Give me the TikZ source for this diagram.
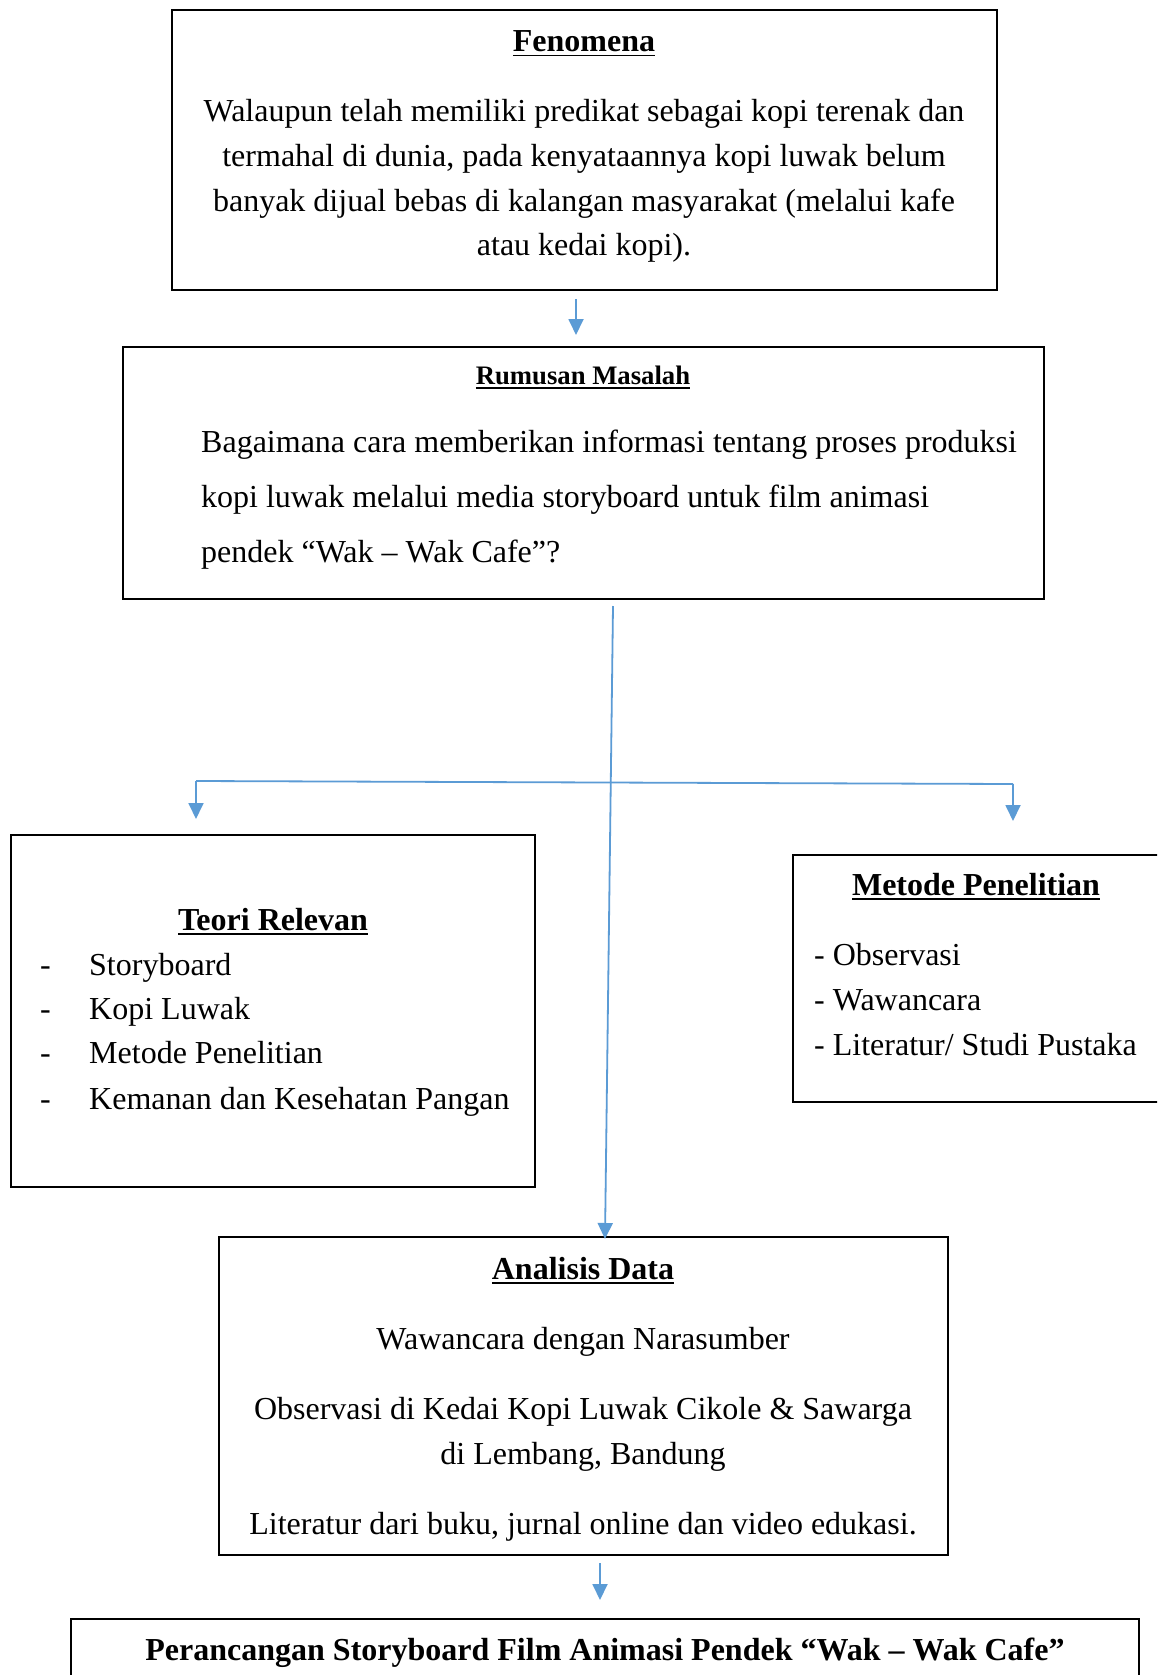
\documentclass[tikz,border=0pt]{standalone}
\usepackage{fontspec}
\setmainfont{Liberation Serif}
\usetikzlibrary{arrows.meta}
\definecolor{lineblue}{HTML}{5B9BD5}
\newcommand\myul[2][1.8pt]{\setbox0\hbox{#2}\rlap{\rule[-4.5pt]{\wd0}{#1}}\box0}
\begin{document}
\begin{tikzpicture}[x=1pt,y=-1pt,
  box/.style={draw=black, line width=2pt},
  conn/.style={draw=lineblue, line width=1.8pt},
  arr/.style={conn, -{Triangle[width=15pt,length=16pt]}},
  txt/.style={anchor=base, inner sep=0pt, font=\fontsize{32}{44}\selectfont},
  ttl/.style={txt, font=\fontsize{32}{44}\selectfont\bfseries}]
\useasboundingbox (0,0) rectangle (1157,1675);
\clip (0,0) rectangle (1157,1675);
\fill[white] (0,0) rectangle (1157,1675);
% boxes
\draw[box] (172,10) rectangle (997,290) node[pos=0.5, inner sep=0] (fen) {};
\draw[box] (123,347) rectangle (1044,599) node[pos=0.5, inner sep=0] (rum) {};
\draw[box] (11,835) rectangle (535,1187) node[pos=0.5, inner sep=0] (teo) {};
\draw[box] (793,855) rectangle (1175,1102) node[pos=0.5, inner sep=0] (met) {};
\draw[box] (219,1237) rectangle (948,1555) node[pos=0.5, inner sep=0] (ana) {};
\draw[box] (71,1619) rectangle (1139,1700) node[pos=0.5, inner sep=0] (per) {};
% Fenomena
\node[ttl] (fent) at (584,52) {\myul{Fenomena}};
\node[txt] (fen1) at (584,122) {Walaupun telah memiliki predikat sebagai kopi terenak dan};
\node[txt] (fen2) at (584,166) {termahal di dunia, pada kenyataannya kopi luwak belum};
\node[txt] (fen3) at (584,211) {banyak dijual bebas di kalangan masyarakat (melalui kafe};
\node[txt] (fen4) at (584,255) {atau kedai kopi).};
% Rumusan
\node[txt, font=\fontsize{26.7}{32}\selectfont\bfseries] (rumt) at (583,384) {\myul[1.5pt]{Rumusan Masalah}};
\node[txt, anchor=base west] (rum1) at (201,452) {Bagaimana cara memberikan informasi tentang proses produksi};
\node[txt, anchor=base west] (rum2) at (201,507) {kopi luwak melalui media storyboard untuk film animasi};
\node[txt, anchor=base west] (rum3) at (201,562) {pendek “Wak – Wak Cafe”?};
% Teori
\node[ttl] (teot) at (273,930) {\myul{Teori Relevan}};
\foreach \yy/\tt [count=\i] in {975/Storyboard,1019/Kopi Luwak,1063/Metode Penelitian,1109/Kemanan dan Kesehatan Pangan}{
  \node[txt, anchor=base west] (teod\i) at (40,\yy) {-};
  \node[txt, anchor=base west] (teoi\i) at (89,\yy) {\tt};
}
% Metode
\node[ttl] (mett) at (976,895) {\myul{Metode Penelitian}};
\node[txt, anchor=base west] (met1) at (814,965) {- Observasi};
\node[txt, anchor=base west] (met2) at (814,1010) {- Wawancara};
\node[txt, anchor=base west] (met3) at (814,1055) {- Literatur/ Studi Pustaka};
% Analisis
\node[ttl] (anat) at (583,1279) {\myul{Analisis Data}};
\node[txt] (ana1) at (583,1349) {Wawancara dengan Narasumber};
\node[txt] (ana2) at (583,1419) {Observasi di Kedai Kopi Luwak Cikole \& Sawarga};
\node[txt] (ana3) at (583,1464) {di Lembang, Bandung};
\node[txt] (ana4) at (583,1534) {Literatur dari buku, jurnal online dan video edukasi.};
% Bottom
\node[ttl] (pert) at (605,1660) {Perancangan Storyboard Film Animasi Pendek “Wak – Wak Cafe”};
% connectors
\coordinate (a1s) at (576,299);
\coordinate (a1e) at (576,335);
\draw[arr] (a1s) -- (a1e);
\coordinate (ls) at (613,606);
\coordinate (le) at (605,1239);
\draw[arr] (ls) -- (le);
\coordinate (hl) at (196,781);
\coordinate (hr) at (1013,784);
\coordinate (hle) at (196,819);
\coordinate (hre) at (1013,821);
\draw[conn] (hl) -- (hr);
\draw[arr] (hl) -- (hle);
\draw[arr] (hr) -- (hre);
\coordinate (a2s) at (600,1563);
\coordinate (a2e) at (600,1600);
\draw[arr] (a2s) -- (a2e);
\end{tikzpicture}
\end{document}
